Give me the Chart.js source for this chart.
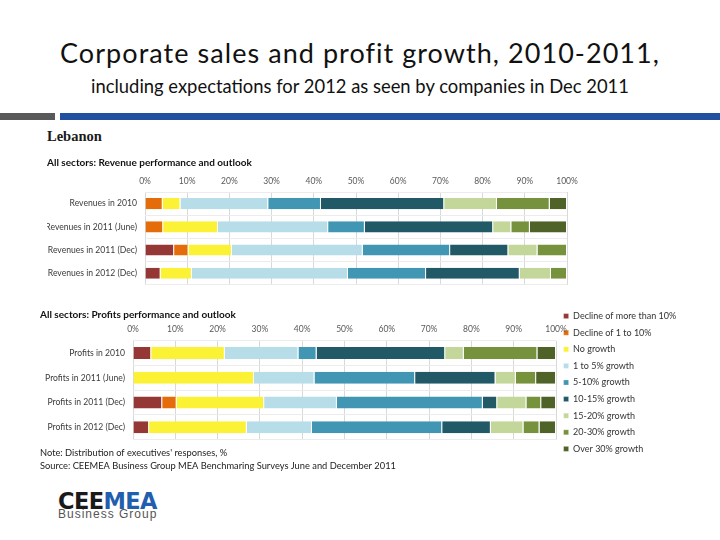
<!DOCTYPE html>
<html>
<head>
<meta charset="utf-8">
<script src="https://cdn.jsdelivr.net/npm/chart.js@4.4.1/dist/chart.umd.min.js"></script>
<style>
  html, body { margin: 0; padding: 0; background: #fff; }
  body { width: 720px; height: 540px; position: relative; overflow: hidden; font-family: Lato, "Open Sans", sans-serif; color: #111; }
  .abs { position: absolute; white-space: nowrap; }
  #title { left: 0; width: 720px; top: 39.4px; text-align: center; font-size: 27px; line-height: 27px; letter-spacing: 1.05px; }
  #subtitle { left: 0; width: 720px; top: 77px; text-align: center; font-size: 18.4px; line-height: 18.4px; }
  #barGray { left: 0; top: 113px; width: 55px; height: 7px; background: #595959; }
  #barBlue { left: 60px; top: 113px; width: 660px; height: 7px; background: #2150a0; }
  #country { left: 47px; top: 129px; font: bold 14.5px/14.5px "Liberation Serif", serif; color: #1a1a1a; }
  #revenueChart { position: absolute; left: 47px; top: 152px; }
  #profitChart { position: absolute; left: 40px; top: 304px; }
  #logo { left: 58px; top: 489.5px; font: bold 22.5px/22.5px "DejaVu Sans", sans-serif; letter-spacing: -0.6px; }
  #logo .cee { color: #1a1a1a; }
  #logo .mea { color: #1f5fad; }
  #logoSub { left: 58px; top: 508px; font: 12px/12px "Liberation Sans", sans-serif; letter-spacing: 1px; color: #555; }
</style>
</head>
<body>
<div id="title" class="abs">Corporate sales and profit growth, 2010-2011,</div>
<div id="subtitle" class="abs">including expectations for 2012 as seen by companies in Dec 2011</div>
<div id="barGray" class="abs"></div>
<div id="barBlue" class="abs"></div>
<div id="country" class="abs">Lebanon</div>
<canvas id="revenueChart" width="543" height="146"></canvas>
<canvas id="profitChart" width="680" height="173"></canvas>
<div id="logo" class="abs"><span class="cee">CEE</span><span class="mea">MEA</span></div>
<div id="logoSub" class="abs">Business Group</div>

<script>
// --- DATA ---
const responseBands = ['Decline of more than 10%', 'Decline of 1 to 10%', 'No growth', '1 to 5% growth', '5-10% growth', '10-15% growth', '15-20% growth', '20-30% growth', 'Over 30% growth'];
const bandColors = ['#953735', '#e46c0a', '#fcf235', '#b7dde8', '#4197b3', '#215967', '#c4d79b', '#76923c', '#4f6228'];

const revenueRows = ['Revenues in 2010', 'Revenues in 2011 (June)', 'Revenues in 2011 (Dec)', 'Revenues in 2012 (Dec)'];
const revenue2010 = [0, 4.2, 4.2, 20.8, 12.5, 29.2, 12.5, 12.5, 4.1];
const revenue2011Jun = [0, 4.3, 13.0, 26.1, 8.7, 30.4, 4.3, 4.4, 8.8];
const revenue2011Dec = [6.9, 3.4, 10.3, 31.0, 20.7, 13.8, 6.9, 7.0, 0];
const revenue2012Dec = [3.7, 0, 7.4, 37.0, 18.5, 22.2, 7.4, 3.8, 0];

const profitRows = ['Profits in 2010', 'Profits in 2011 (June)', 'Profits in 2011 (Dec)', 'Profits in 2012 (Dec)'];
const profit2010 = [4.3, 0, 17.4, 17.4, 4.3, 30.4, 4.4, 17.4, 4.4];
const profit2011Jun = [0, 0, 28.6, 14.3, 23.8, 19.0, 4.8, 4.8, 4.7];
const profit2011Dec = [6.9, 3.4, 20.7, 17.2, 34.5, 3.4, 6.9, 3.5, 3.5];
const profit2012Dec = [3.8, 0, 23.1, 15.4, 30.8, 11.5, 7.7, 3.8, 3.9];

const pctMin = 0;
const pctMax = 100;
const pctStep = 10;

const noteLines = ["Note: Distribution of executives' responses, %", 'Source: CEEMEA Business Group MEA Benchmaring Surveys June and December 2011'];

Chart.defaults.font.family = 'Lato, "Open Sans", sans-serif';

// one dataset per response band, one bar per survey row
function buildDatasets(rows) {
    return responseBands.map((band, i) => ({
        label: band,
        data: rows.map(r => r[i]),
        backgroundColor: bandColors[i],
        borderColor: '#ffffff',
        borderWidth: { top: 0, bottom: 0, left: 0, right: 1 },
        borderSkipped: false,
        categoryPercentage: 1,
        barPercentage: 0.48
    }));
}

function scaleOptions(axisWidth, axisHeight) {
    return {
        x: {
            stacked: true, position: 'top', min: pctMin, max: pctMax,
            border: { display: false },
            grid: { color: '#d9d9d9', drawTicks: false },
            ticks: { stepSize: pctStep, padding: 6, color: '#595959', font: { size: 8.5 }, callback: v => v + '%' },
            afterFit: s => { s.height = axisHeight; }
        },
        y: {
            stacked: true,
            border: { display: false },
            grid: { color: '#ececec', drawTicks: false },
            ticks: { padding: 8, color: '#3a3a3a', font: { size: 8.6 } },
            afterFit: s => { s.width = axisWidth; }
        }
    };
}

// --- REVENUE CHART ---
const revenueChart = new Chart(document.getElementById('revenueChart'), {
    type: 'bar',
    data: { labels: revenueRows, datasets: buildDatasets([revenue2010, revenue2011Jun, revenue2011Dec, revenue2012Dec]) },
    options: {
        indexAxis: 'y', responsive: false, animation: false,
        layout: { padding: { top: 0, right: 23, bottom: 2, left: 0 } },
        plugins: {
            legend: { display: false },
            tooltip: { enabled: false },
            title: {
                display: true, text: 'All sectors: Revenue performance and outlook', align: 'start', color: '#111',
                font: { size: 10, weight: 'bold', lineHeight: 1.2 }, padding: { top: 4.5, bottom: 0 }
            }
        },
        scales: scaleOptions(98, 23.5)
    }
});

// --- PROFITS CHART (with legend + source note) ---
const profitChart = new Chart(document.getElementById('profitChart'), {
    type: 'bar',
    data: { labels: profitRows, datasets: buildDatasets([profit2010, profit2011Jun, profit2011Dec, profit2012Dec]) },
    options: {
        indexAxis: 'y', responsive: false, animation: false,
        layout: { padding: { top: 0, right: 0, bottom: 0, left: 0 } },
        plugins: {
            legend: {
                display: true, position: 'right', align: 'start',
                labels: { boxWidth: 5, boxHeight: 5, padding: 7.6, color: '#333', font: { size: 9 } }
            },
            tooltip: { enabled: false },
            title: {
                display: true, text: 'All sectors: Profits performance and outlook', align: 'start', color: '#111',
                font: { size: 10, weight: 'bold', lineHeight: 1.2 }, padding: { top: 5, bottom: 0 }
            },
            subtitle: {
                display: true, position: 'bottom', align: 'start', text: noteLines, color: '#222',
                font: { size: 9.3, lineHeight: 1.43 }, padding: { top: 6.8, bottom: 4 }
            }
        },
        scales: scaleOptions(93, 19.6)
    }
});

// push the legend left so the plot area ends where it does in the source
// (chartArea is in canvas coordinates; the canvas starts at x=40, target right edge is x=556)
const shift = profitChart.chartArea.right - 516;
profitChart.options.layout.padding = { top: 0, right: shift, bottom: 0, left: 0 };
profitChart.update();
</script>
</body>
</html>
